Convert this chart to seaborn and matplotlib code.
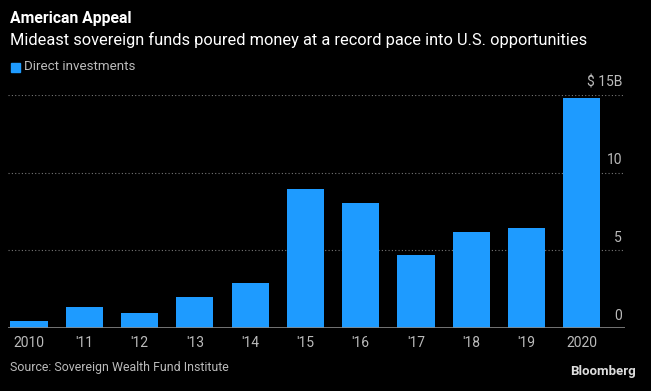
import pandas as pd
import matplotlib.pyplot as plt
import seaborn as sns

# Data (billions of USD)
years = ["2010", "'11", "'12", "'13", "'14", "'15", "'16", "'17", "'18", "'19", "2020"]
investments = [0.45, 1.35, 0.97, 2.0, 2.9, 8.95, 8.05, 4.7, 6.18, 6.44, 14.8]
ytick_values = [0, 5, 10, 15]
ytick_labels = ["0", "5", "10", "$ 15B"]

df = pd.DataFrame({"year": years, "value": investments})

sns.set_theme(style="white")
plt.rcParams["font.family"] = ["Roboto", "DejaVu Sans"]

bg = "black"
blue = "#1E9BFF"
grey = "#BBBBBB"

fig = plt.figure(figsize=(6.51, 3.91), dpi=100, facecolor=bg)
W, H = 651, 391
ax = fig.add_axes([8 / W, (H - 328) / H, (625 - 8) / W, (328 - 95) / H])
ax.set_facecolor(bg)

sns.barplot(data=df, x="year", y="value", color=blue, width=0.67,
            saturation=1, linewidth=0, ax=ax)

ax.set_xlim(-0.38, 10.78)
ax.set_ylim(0, 15)
for s in ax.spines.values():
    s.set_visible(False)
ax.set_yticks([])
ax.set_xlabel("")
ax.set_ylabel("")
ax.tick_params(axis="x", length=0, colors=grey, labelsize=10, pad=6)

# dotted gridlines with labels sitting on top at the right
for v, lab in zip(ytick_values, ytick_labels):
    if v == 0:
        ax.axhline(v, color="#888888", lw=1.2, zorder=3)
    else:
        ax.axhline(v, color="#777777", lw=0.8, ls=(0, (1, 2)), zorder=0)
    ax.text(0.995, v + 0.35, lab, transform=ax.get_yaxis_transform(),
            ha="right", va="bottom", color=grey, fontsize=10)

fig.text(10 / W, 1 - 18 / H, "American Appeal", color="white",
         fontsize=11.3, fontweight="bold", va="center")
fig.text(10 / W, 1 - 40 / H,
         "Mideast sovereign funds poured money at a record pace into U.S. opportunities",
         color="white", fontsize=11.8, va="center")
fig.patches.append(plt.Rectangle((11 / W, 1 - 72 / H), 9 / W, 9 / H,
                                 transform=fig.transFigure, color=blue))
fig.text(24 / W, 1 - 67 / H, "Direct investments", color=grey,
         fontsize=9.6, va="center")
fig.text(10 / W, 1 - 368 / H, "Source: Sovereign Wealth Fund Institute",
         color=grey, fontsize=8.9, va="center")
fig.text(636 / W, 1 - 371 / H, "Bloomberg", color="#DDDDDD",
         fontsize=9.5, fontweight="bold", ha="right", va="center")

fig.savefig("out.png", dpi=100, facecolor=bg)
